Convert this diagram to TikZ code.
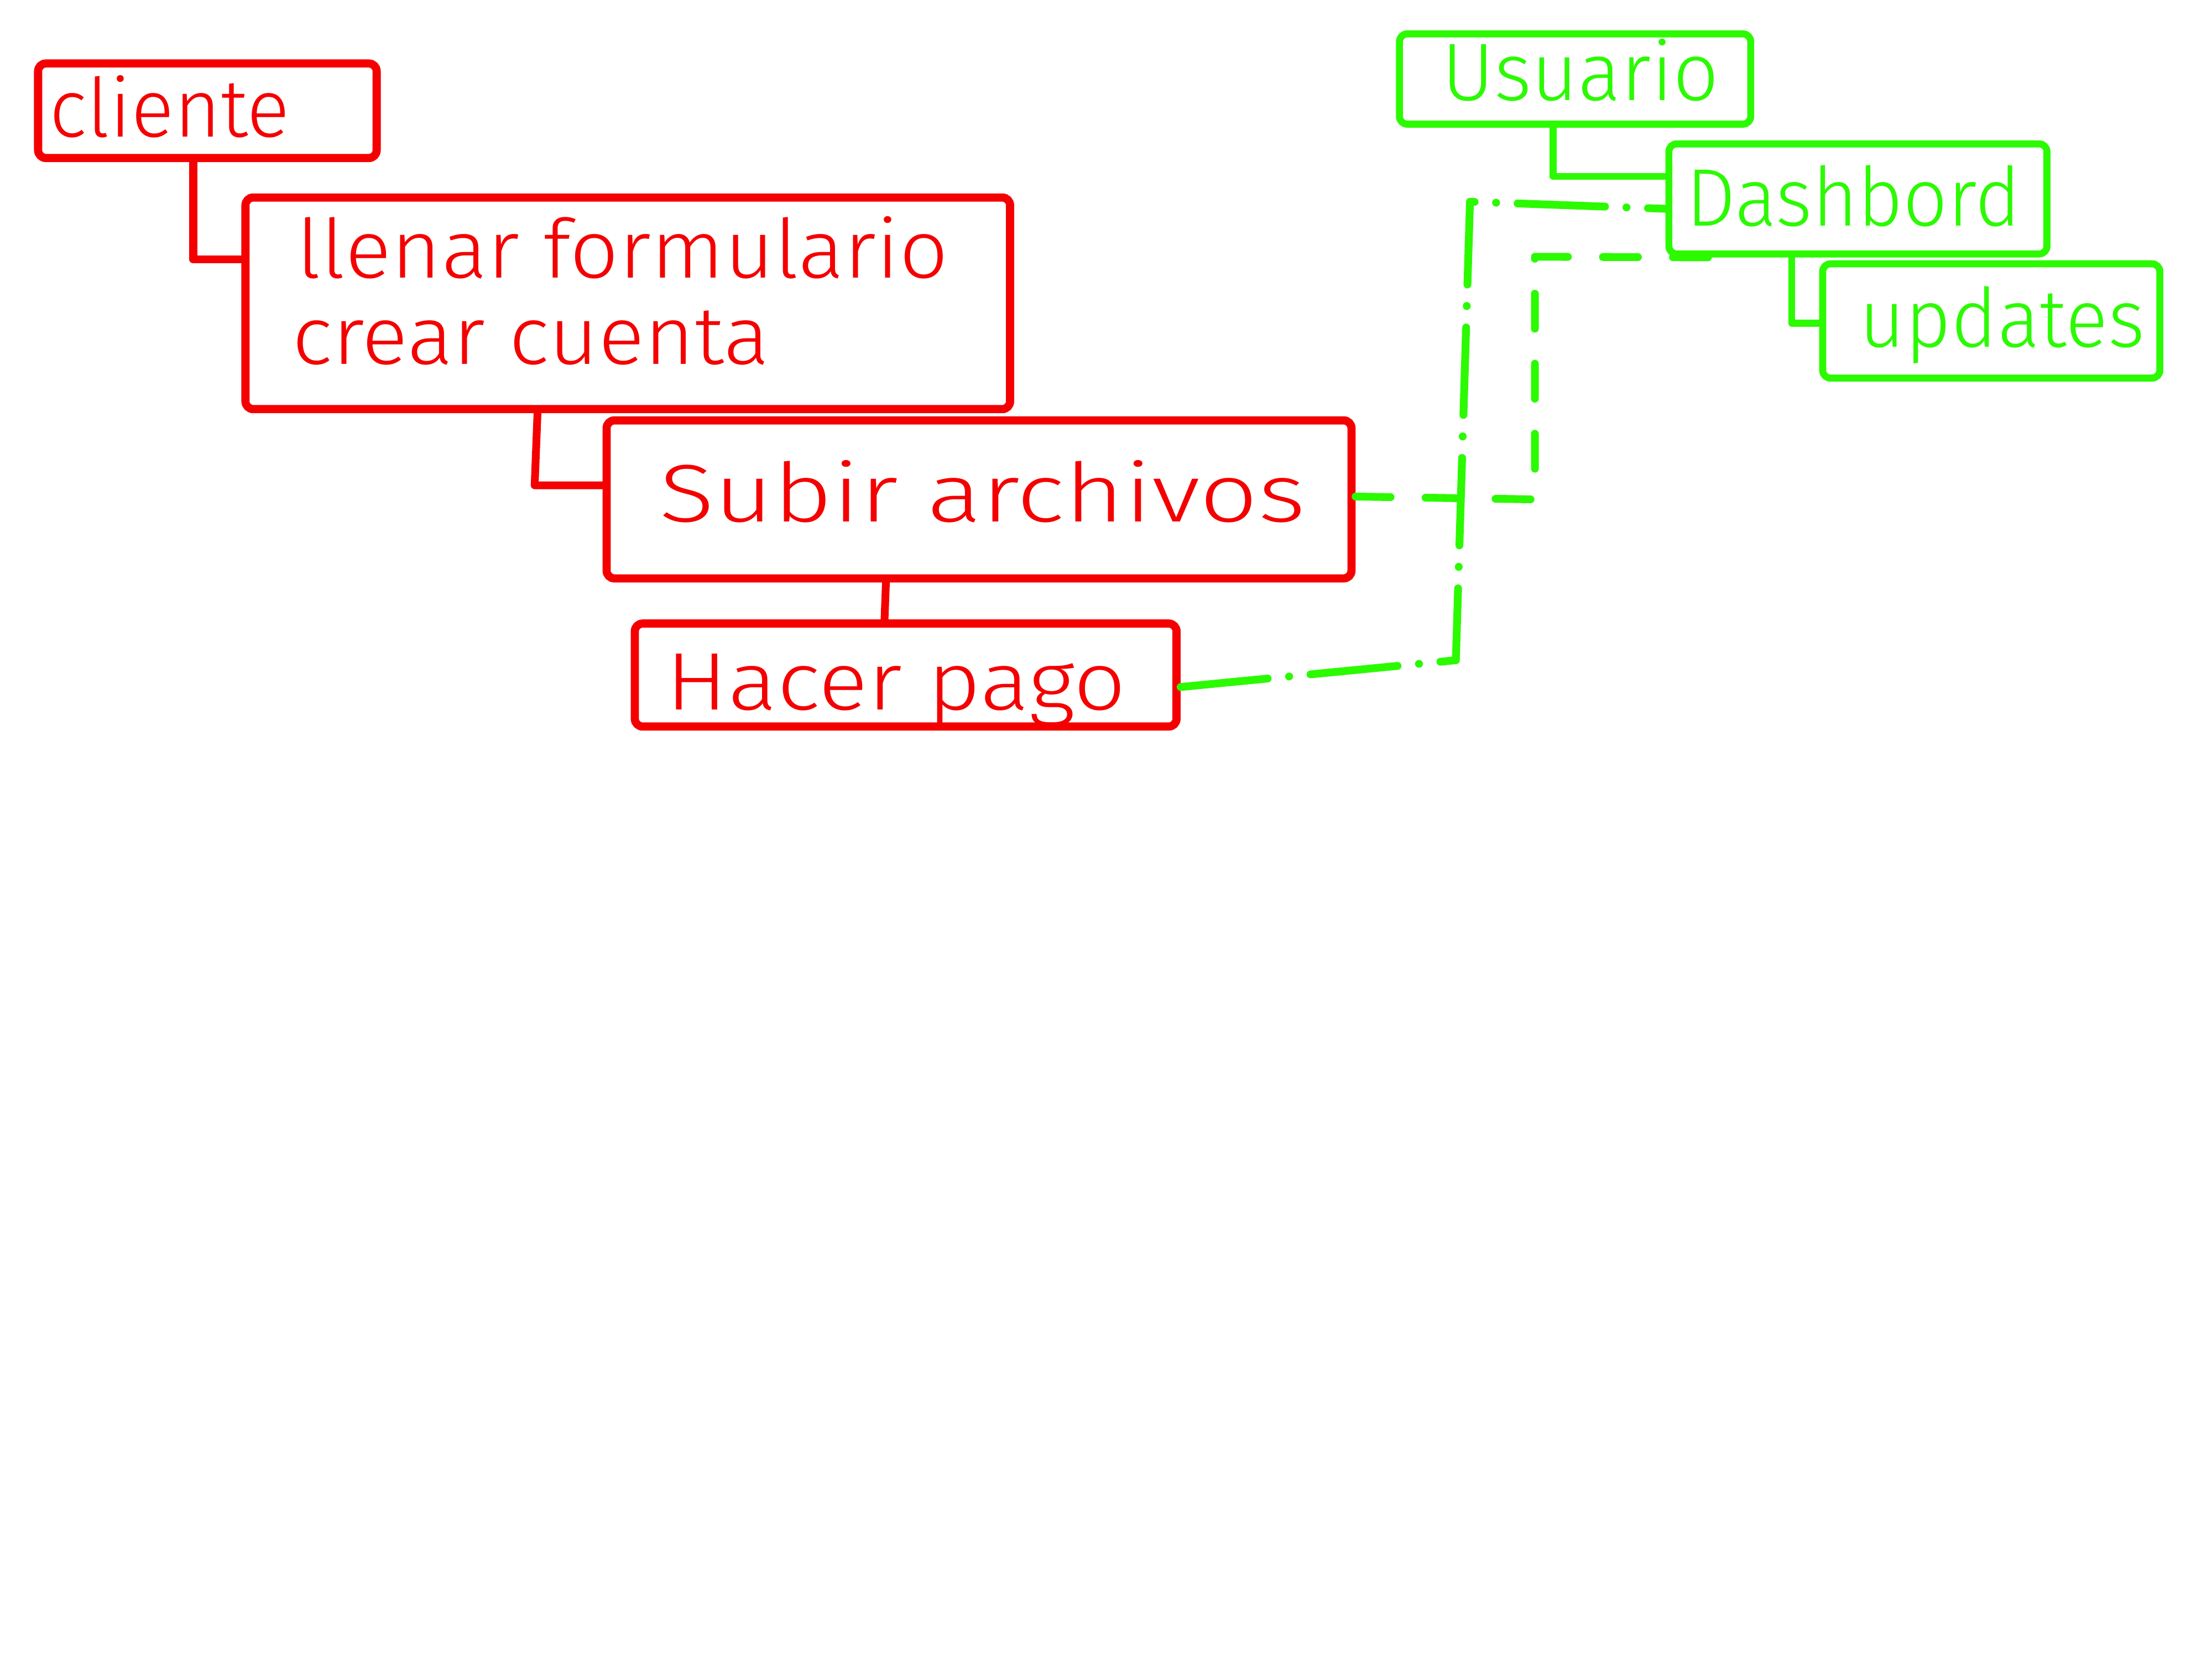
\documentclass[tikz,border=0pt]{standalone}
\usepackage{fontspec}
\usepackage{graphicx}
\newfontfamily\hand{Fira Sans Light}
\usetikzlibrary{fit}
\definecolor{hred}{RGB}{245,0,0}
\definecolor{hgreen}{RGB}{43,250,0}
\newcommand{\handtxt}[2]{{\hand\fontsize{42}{50}\selectfont\resizebox{#1}{\height}{#2}}}
\tikzset{
  rbox/.style={draw=hred, line width=4.2pt, rounded corners=4pt, inner sep=0pt},
  gbox/.style={draw=hgreen, line width=3.6pt, rounded corners=4pt, inner sep=0pt},
  rline/.style={draw=hred, line width=4pt, line join=round, line cap=round},
  gline/.style={draw=hgreen, line width=3.6pt, line join=round, line cap=round},
  gdash/.style={gline, line width=4pt, dash pattern=on 18pt off 18pt},
  gdashdot/.style={gline, line width=4pt, dash pattern=on 45pt off 11pt on 0.1pt off 11pt},
  rtxt/.style={text=hred, inner sep=0pt, anchor=base west},
  gtxt/.style={text=hgreen, inner sep=0pt, anchor=base west}
}
\begin{document}
\begin{tikzpicture}[x=0.0255cm,y=-0.0255cm]
\fill[white] (0,0) rectangle (1568,1176);
\useasboundingbox (0,0) rectangle (1568,1176);

% red boxes
\node[rbox, fit={(27,45)(267,112)}] (cliente) {};
\node[rbox, fit={(174,140)(716,290)}] (llenar) {};
\node[rbox, fit={(430,298)(958,410)}] (subir) {};
\node[rbox, fit={(450,442)(834,515)}] (hacer) {};

% green boxes
\node[gbox, fit={(992,24)(1241,88)}] (usuario) {};
\node[gbox, fit={(1183,102)(1451,180)}] (dashbord) {};
\node[gbox, fit={(1292,187)(1531,268)}] (updates) {};

% texts
\node[rtxt] (tcliente) at (35,97) {\handtxt{4.34cm}{cliente}};
\node[rtxt] (tllenar) at (210,197) {\handtxt{11.78cm}{llenar formulario}};
\node[rtxt] (tcrear) at (207,258) {\handtxt{8.62cm}{crear cuenta}};
\node[rtxt] (tsubir) at (467,370) {\handtxt{11.68cm}{Subir archivos}};
\node[rtxt] (thacer) at (472,503) {\handtxt{8.31cm}{Hacer pago}};
\node[gtxt] (tusuario) at (1022,71) {\handtxt{5.0cm}{Usuario}};
\node[gtxt] (tdash) at (1195,160) {\handtxt{6.04cm}{Dashbord}};
\node[gtxt] (tupdates) at (1318,246) {\handtxt{5.15cm}{updates}};

% red connectors
\draw[rline] (137,0 |- cliente.south) -- (137,184) -- (llenar.west |- 0,184);
\draw[rline] (381,0 |- llenar.south) -- (379,344) -- (subir.west |- 0,344);
\draw[rline] (628,0 |- subir.south) -- (627,0 |- hacer.north);

% green connectors
\draw[gline] (1101,0 |- usuario.south) -- (1101,125) -- (dashbord.west |- 0,125);
\draw[gline] (1270,0 |- dashbord.south) -- (1270,229) -- (updates.west |- 0,229);

% green dashed connectors
\coordinate (dbend) at (1225,0 |- dashbord.south);
\draw[gdash] (subir.east |- 0,352) -- (1088,354) -- (1088,182) -- (dbend);
\draw[gdashdot] (hacer.east |- 0,487) -- (1032,468) -- (1042,143) -- (dashbord.west |- 0,148);
\end{tikzpicture}
\end{document}
